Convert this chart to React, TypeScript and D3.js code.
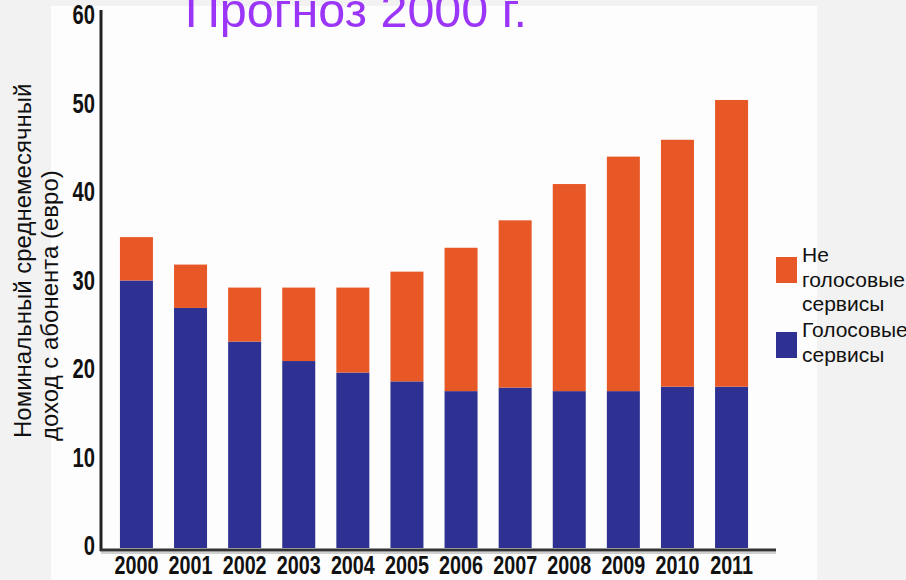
import { useEffect, useRef } from "react";
import * as d3 from "d3";

const years = ["2000", "2001", "2002", "2003", "2004", "2005", "2006", "2007", "2008", "2009", "2010", "2011"];
const voice = [30.0, 26.9, 23.1, 20.9, 19.6, 18.6, 17.5, 17.9, 17.5, 17.5, 18.0, 18.0];
const nonVoice = [4.9, 4.9, 6.1, 8.3, 9.6, 12.4, 16.2, 18.9, 23.4, 26.5, 27.9, 32.4];
const yTicks = [0, 10, 20, 30, 40, 50, 60];
const legendItems = [
  { key: "nonVoice", lines: ["Не", "голосовые", "сервисы"] },
  { key: "voice", lines: ["Голосовые", "сервисы"] },
];

const colors: Record<string, string> = { voice: "#2e3192", nonVoice: "#e85826" };

function App() {
  const svgRef = useRef<SVGSVGElement | null>(null);
  const width = 906;
  const height = 580;

  useEffect(() => {
    const svg = d3.select(svgRef.current);
    svg.selectAll("*").remove();

    // backdrop: grey slide with white chart panel
    svg.append("rect").attr("width", width).attr("height", height).attr("fill", "#f2f2f2");
    svg.append("rect").attr("x", 51).attr("y", 6).attr("width", 766).attr("height", height - 6).attr("fill", "#fdfdfd");

    const x = d3.scaleBand().domain(years).range([101, 767]).paddingInner(0.39).paddingOuter(0.35);
    const y = d3.scaleLinear().domain([0, 60]).range([546, 15]);

    const rows = years.map((yr, i) => ({ year: yr, voice: voice[i], nonVoice: nonVoice[i] }));
    const series = d3.stack<any>().keys(["voice", "nonVoice"])(rows);

    svg.append("g")
      .selectAll("g")
      .data(series)
      .join("g")
      .attr("fill", (d) => colors[d.key])
      .selectAll("rect")
      .data((d) => d)
      .join("rect")
      .attr("x", (d: any) => x(d.data.year)!)
      .attr("width", x.bandwidth())
      .attr("y", (d) => y(d[1]))
      .attr("height", (d) => y(d[0]) - y(d[1]) + (d[0] === 0 ? 2 : 0));

    // axes lines
    svg.append("line").attr("x1", 101).attr("x2", 776).attr("y1", y(0) + 7).attr("y2", y(0) + 7)
      .attr("stroke", "#d0d0d0").attr("stroke-width", 2);
    svg.append("line").attr("x1", 101).attr("x2", 101).attr("y1", y(60) - 5).attr("y2", y(0) + 5)
      .attr("stroke", "#222").attr("stroke-width", 3);
    svg.append("line").attr("x1", 100).attr("x2", 776).attr("y1", y(0) + 4).attr("y2", y(0) + 4)
      .attr("stroke", "#333").attr("stroke-width", 3);

    const tickFont = "'Liberation Sans', Arial, sans-serif";

    const yAxis = svg.append("g")
      .attr("transform", "translate(95,0)")
      .call(d3.axisLeft(y).tickValues(yTicks).tickSize(0).tickPadding(0));
    yAxis.select(".domain").remove();
    yAxis.selectAll("text")
      .attr("font-family", tickFont)
      .attr("font-weight", "bold")
      .attr("font-size", 28)
      .attr("transform", "scale(0.72,1)")
      .attr("fill", "#111");

    const xAxis = svg.append("g")
      .attr("transform", `translate(0,${y(0) + 9.5})`)
      .call(d3.axisBottom(x).tickSize(0).tickPadding(0));
    xAxis.select(".domain").remove();
    xAxis.selectAll("text")
      .attr("font-family", tickFont)
      .attr("font-weight", "bold")
      .attr("font-size", 26)
      .attr("transform", "scale(0.76,1)")
      .attr("fill", "#111");

    // title
    svg.append("text")
      .attr("x", 185)
      .attr("y", 27)
      .attr("font-family", "'Liberation Sans', Arial, sans-serif")
      .attr("font-size", 48.5)
      .attr("fill", "#9b35f7")
      .text("Прогноз 2000 г.");

    // y axis title
    const yTitle = svg.append("g").attr("font-family", "'Liberation Sans', Arial, sans-serif").attr("font-size", 24).attr("fill", "#111");
    yTitle.append("text").attr("transform", "translate(31,438) rotate(-90)").text("Номинальный среднемесячный");
    yTitle.append("text").attr("transform", "translate(58,441) rotate(-90)").text("доход с абонента (евро)");

    // legend
    const legend = svg.append("g").attr("font-family", "'Liberation Sans', Arial, sans-serif").attr("font-size", 21).attr("fill", "#111");
    let lineIdx = 0;
    legendItems.forEach((item) => {
      const top = 262 + lineIdx * 25;
      legend.append("rect")
        .attr("x", 776).attr("y", top - 5)
        .attr("width", 21).attr("height", 26)
        .attr("fill", colors[item.key]);
      item.lines.forEach((ln, j) => {
        legend.append("text").attr("x", 802).attr("y", top + j * 24.5).text(ln);
      });
      lineIdx += item.lines.length;
    });
  }, []);

  return (
    <svg
      ref={svgRef}
      width={width}
      height={height}
      viewBox={`0 0 ${width} ${height}`}
      style={{ position: "absolute", left: 0, top: 0 }}
    ></svg>
  );
}

export default App;
